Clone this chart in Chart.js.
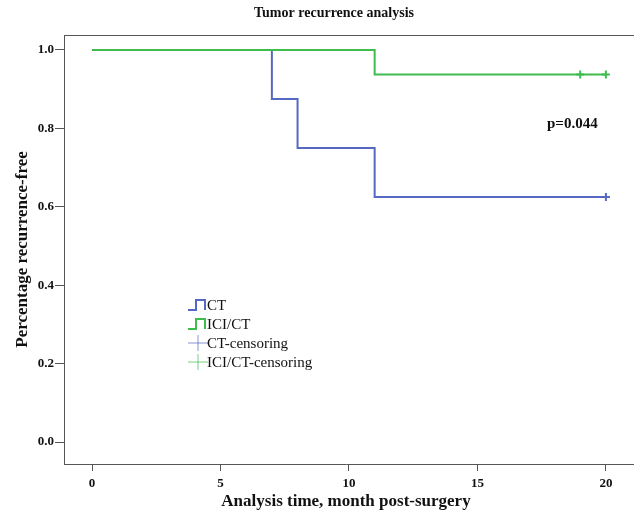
<!DOCTYPE html>
<html>
<head>
<meta charset="utf-8">
<script src="https://cdn.jsdelivr.net/npm/chart.js@4/dist/chart.umd.min.js"></script>
<style>
  html, body { margin: 0; padding: 0; background: #fff; }
  #wrap { width: 634px; height: 516px; }
</style>
</head>
<body>
<div id="wrap"><canvas id="kmChart" width="634" height="516"></canvas></div>
<script>
const ctTimes = [0, 7, 8, 11, 20];
const ctSurv = [1.0, 0.875, 0.75, 0.625, 0.625];
const iciTimes = [0, 11, 20];
const iciSurv = [1.0, 0.9375, 0.9375];
const ctCensorTimes = [20];
const ctCensorSurv = [0.625];
const iciCensorTimes = [19, 20];
const iciCensorSurv = [0.9375, 0.9375];
const xTicks = [0, 5, 10, 15, 20];
const yTicks = [0.0, 0.2, 0.4, 0.6, 0.8, 1.0];
const legendNames = ["CT", "ICI/CT", "CT-censoring", "ICI/CT-censoring"];

const BLUE = "#5568c2";
const GREEN = "#3fbc4e";
const SERIF = "'Liberation Serif', 'Times New Roman', serif";

function toPoints(xs, ys) {
    return xs.map((x, i) => ({ x: x, y: ys[i] }));
}

// title, frame on top, p-value, custom legend
const extras = {
    id: "extras",
    afterDraw(chart) {
        const c = chart.ctx;
        const a = chart.chartArea;
        const w = chart.width;
        c.save();
        c.strokeStyle = "#555";
        c.lineWidth = 1;
        c.beginPath();
        c.moveTo(a.left, a.top + 0.5);
        c.lineTo(w, a.top + 0.5);
        c.moveTo(a.right, a.bottom + 0.5);
        c.lineTo(w, a.bottom + 0.5);
        c.stroke();

        c.fillStyle = "#111";
        c.textBaseline = "middle";
        c.textAlign = "center";
        c.font = "bold 14px " + SERIF;
        c.fillText("Tumor recurrence analysis", 334, 13);

        c.font = "bold 15px " + SERIF;
        c.textAlign = "left";
        c.fillText("p=0.044", 547, 124);

        c.font = "15px " + SERIF;
        const colors = [BLUE, GREEN, BLUE, GREEN];
        const rows = [305, 324, 343, 362];
        rows.forEach((y, i) => {
            c.strokeStyle = colors[i];
            c.lineWidth = 2;
            c.beginPath();
            if (i < 2) {
                c.moveTo(188, y + 5);
                c.lineTo(196, y + 5);
                c.lineTo(196, y - 5);
                c.lineTo(205, y - 5);
                c.lineTo(205, y + 5);
            } else {
                c.globalAlpha = 0.7;
                c.lineWidth = 1;
                c.moveTo(188, y);
                c.lineTo(208, y);
                c.moveTo(198, y - 8);
                c.lineTo(198, y + 8);
            }
            c.stroke();
            c.globalAlpha = 1;
            c.fillStyle = "#111";
            c.fillText(legendNames[i], 207, y + 1);
        });
        c.restore();
    }
};

new Chart(document.getElementById("kmChart"), {
    type: "line",
    data: {
        datasets: [
            { label: legendNames[0], data: toPoints(ctTimes, ctSurv), borderColor: BLUE, borderWidth: 2, stepped: "before", pointRadius: 0, fill: false, order: 4 },
            { label: legendNames[1], data: toPoints(iciTimes, iciSurv), borderColor: GREEN, borderWidth: 2, stepped: "before", pointRadius: 0, fill: false, order: 3 },
            { label: legendNames[2], data: toPoints(ctCensorTimes, ctCensorSurv), showLine: false, pointStyle: "cross", pointRadius: 4, borderColor: BLUE, borderWidth: 2, pointHoverRadius: 4, order: 2 },
            { label: legendNames[3], data: toPoints(iciCensorTimes, iciCensorSurv), showLine: false, pointStyle: "cross", pointRadius: 4, borderColor: GREEN, borderWidth: 2, pointHoverRadius: 4, order: 1 }
        ]
    },
    options: {
        responsive: false,
        animation: false,
        layout: { padding: { left: 8, right: 0, top: 35, bottom: 0 } },
        plugins: {
            legend: { display: false },
            tooltip: { enabled: false },
            title: { display: false }
        },
        scales: {
            x: {
                type: "linear",
                min: -1.09,
                max: 20.86,
                afterFit(s) { s.height = 52; },
                afterBuildTicks(s) { s.ticks = xTicks.map(v => ({ value: v })); },
                border: { display: true, color: "#555", width: 1 },
                grid: { drawOnChartArea: false, drawTicks: true, tickLength: 7, color: "#555" },
                ticks: { color: "#111", font: { family: SERIF, size: 13, weight: "bold" }, padding: 5, maxRotation: 0 },
                title: {
                    display: true,
                    text: "Analysis time, month post-surgery",
                    color: "#111",
                    font: { family: SERIF, size: 17, weight: "bold" },
                    padding: { top: 3 }
                }
            },
            y: {
                type: "linear",
                min: -0.056,
                max: 1.038,
                afterFit(s) { s.width = 56; },
                afterBuildTicks(s) { s.ticks = yTicks.map(v => ({ value: v })); },
                border: { display: true, color: "#555", width: 1 },
                grid: { drawOnChartArea: false, drawTicks: true, tickLength: 9, color: "#555" },
                ticks: { color: "#111", font: { family: SERIF, size: 13, weight: "bold" }, padding: 1, callback: v => v.toFixed(1) },
                title: {
                    display: true,
                    text: "Percentage recurrence-free",
                    color: "#111",
                    font: { family: SERIF, size: 17, weight: "bold" },
                    padding: { bottom: 0 }
                }
            }
        }
    },
    plugins: [extras]
});
</script>
</body>
</html>
